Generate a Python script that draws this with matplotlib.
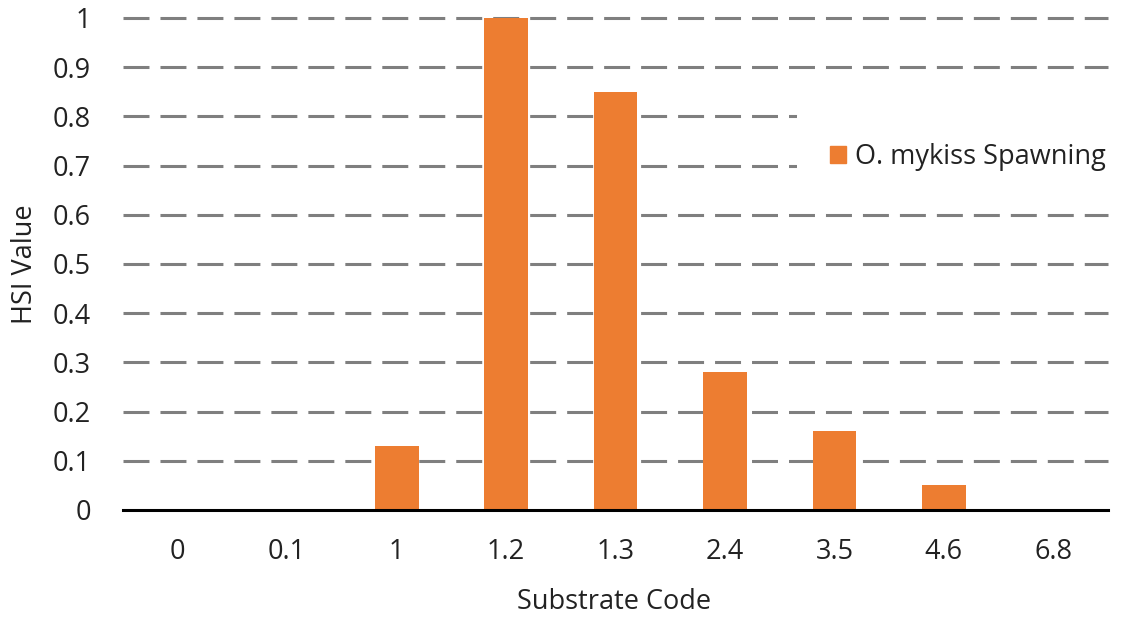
import matplotlib
matplotlib.use("Agg")
import matplotlib.pyplot as plt
from matplotlib.patches import Patch

categories = ["0", "0.1", "1", "1.2", "1.3", "2.4", "3.5", "4.6", "6.8"]
hsi_values = [0.0, 0.0, 0.13, 1.0, 0.85, 0.28, 0.16, 0.05, 0.0]
y_ticks = [0, 0.1, 0.2, 0.3, 0.4, 0.5, 0.6, 0.7, 0.8, 0.9, 1.0]
y_tick_labels = ["0", "0.1", "0.2", "0.3", "0.4", "0.5", "0.6", "0.7", "0.8", "0.9", "1"]
series_name = "O. mykiss Spawning"

plt.rcParams["font.family"] = ["Open Sans", "DejaVu Sans"]
text_color = "#222222"
bar_color = "#ED7D31"
fs = 19.5

W, H = 1123, 619
fig = plt.figure(figsize=(W / 100, H / 100), dpi=100)
ymax = 1.02
left, right, bottom_px, one_px = 123, 1108, 510, 18
top_px = bottom_px - (bottom_px - one_px) * ymax
ax = fig.add_axes([left / W, 1 - bottom_px / H, (right - left) / W, (bottom_px - top_px) / H])

x = range(len(categories))
ax.bar(x, hsi_values, width=0.4, color=bar_color, zorder=3)

ax.set_xlim(-0.5, len(categories) - 0.5)
ax.set_ylim(0, ymax)
ax.set_yticks(y_ticks)
ax.set_yticklabels(y_tick_labels)
ax.set_xticks(list(x))
ax.set_xticklabels(categories)
ax.tick_params(axis="both", length=0, labelsize=fs, colors=text_color)
ax.tick_params(axis="y", pad=23)
ax.tick_params(axis="x", pad=20)

# dashed horizontal gridlines
for v in y_ticks[1:]:
    ax.axhline(v, color="#7f7f7f", lw=2.2, linestyle=(0, (8.5, 3.6)), zorder=1, clip_on=False)

for s in ["left", "right", "top"]:
    ax.spines[s].set_visible(False)
ax.spines["bottom"].set_linewidth(2.2)
ax.spines["bottom"].set_color("black")
ax.spines["bottom"].set_zorder(4)

ax.set_ylabel("HSI Value", fontsize=fs, color=text_color)
ax.set_xlabel("Substrate Code", fontsize=fs, color=text_color)
ax.yaxis.set_label_coords((25 - left) / (right - left), (bottom_px - 264) / (bottom_px - top_px))
ax.xaxis.set_label_coords((614 - left) / (right - left), -(602 - bottom_px) / (bottom_px - top_px))
ax.yaxis.label.set_va("center")
ax.xaxis.label.set_va("center")

leg = fig.legend(handles=[Patch(color=bar_color, label=series_name)],
                 loc="center left", bbox_to_anchor=(797 / W, 1 - 157 / H),
                 frameon=True, facecolor="white", edgecolor="none", framealpha=1,
                 fontsize=fs, handlelength=0.6, handleheight=0.6, handletextpad=0.35,
                 borderpad=1.2, borderaxespad=0)
for t in leg.get_texts():
    t.set_color(text_color)
leg.set_zorder(10)

fig.savefig("out.png", dpi=100)
